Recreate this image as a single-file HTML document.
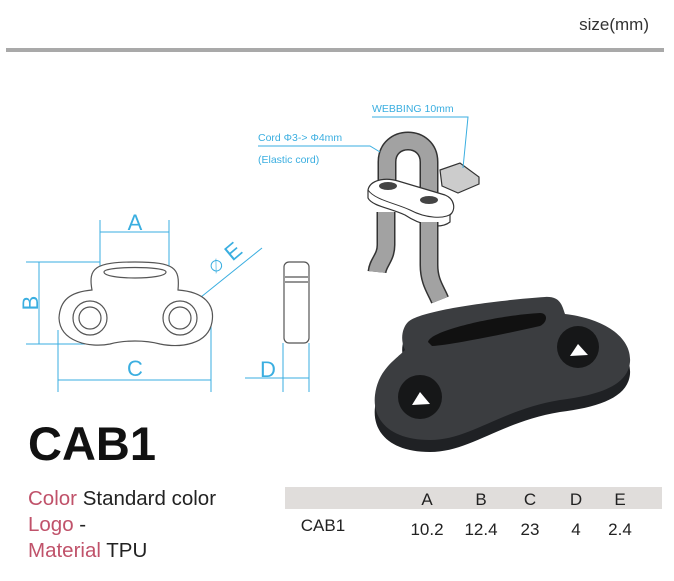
<!DOCTYPE html>
<html><head><meta charset="utf-8"><style>
html,body{margin:0;padding:0;background:#fff;}
svg{display:block;}
text{font-family:"Liberation Sans",sans-serif;}
</style></head><body>
<svg width="674" height="581" viewBox="0 0 674 581" xmlns="http://www.w3.org/2000/svg">
<rect width="674" height="581" fill="#fff"/>
<text x="649" y="30" font-size="17" fill="#333" text-anchor="end">size(mm)</text>
<rect x="6" y="48" width="658" height="4" fill="#a9a9a9"/>

<!-- line drawing front -->
<g stroke="#3aaee0" stroke-width="1" fill="none">
<line x1="100" y1="220" x2="100" y2="290"/><line x1="169" y1="220" x2="169" y2="290"/>
<line x1="100" y1="232" x2="169" y2="232"/>
<line x1="26" y1="262" x2="100" y2="262"/><line x1="26" y1="344" x2="85" y2="344"/>
<line x1="39" y1="262" x2="39" y2="344"/>
<line x1="58" y1="330" x2="58" y2="392"/><line x1="211" y1="320" x2="211" y2="392"/>
<line x1="58" y1="380" x2="211" y2="380"/>
<line x1="150" y1="338" x2="262" y2="248"/>
<line x1="283" y1="343" x2="283" y2="392"/><line x1="309" y1="343" x2="309" y2="392"/>
<line x1="245" y1="378" x2="309" y2="378"/>
</g>
<g fill="#3aaee0" font-size="22">
<text x="135" y="230" text-anchor="middle">A</text>
<text x="135" y="376" text-anchor="middle">C</text>
<text x="268" y="377" text-anchor="middle">D</text>
<text transform="translate(38,303) rotate(-90)" text-anchor="middle">B</text>
<text transform="translate(238,257) rotate(-40)" text-anchor="middle">E</text>
<text transform="translate(220,270) rotate(-40)" text-anchor="middle" font-size="16">∅</text>
</g>
<g stroke="#555" stroke-width="1.2" fill="#fff">
<path d="M92,290 C88,268 95,262 135,262 C175,262 180,268 178,290 C205,292 215,305 212,322 C208,345 180,348 160,344 C145,340 125,340 110,344 C90,348 60,342 59,318 C60,300 70,292 92,290 Z"/>
<path d="M104,272 C104,266 166,266 166,272 C166,280 104,280 104,272 Z"/>
<circle cx="90" cy="318" r="17"/><circle cx="90" cy="318" r="11"/>
<circle cx="180" cy="318" r="17"/><circle cx="180" cy="318" r="11"/>
<rect x="284" y="262" width="25" height="81" rx="5"/>
<line x1="285" y1="277" x2="308" y2="277"/><line x1="285" y1="282" x2="308" y2="282"/>
</g>

<!-- 3D cord drawing -->
<!-- webbing -->
<path d="M440,170 L460,163 L479,177 L479,184 L458,193 L442,186 Z" fill="#ccc" stroke="#333" stroke-width="1.2"/>
<!-- upper arc of cord -->
<path d="M387,190 L387,162 C387,134 429,134 429,162 L429,205" fill="none" stroke="#333" stroke-width="19"/>
<path d="M387,190 L387,162 C387,134 429,134 429,162 L429,205" fill="none" stroke="#a2a2a2" stroke-width="16"/>
<!-- buckle -->
<path d="M368,190 C370,180 385,177 398,181 L445,195 C455,199 456,210 450,215 L450,222 C440,230 420,225 405,215 C390,208 372,206 368,198 Z" fill="#fff" stroke="#333" stroke-width="1.2"/>
<path d="M368,190 C375,200 395,203 410,210 C425,218 445,220 452,213" fill="none" stroke="#333" stroke-width="1"/>
<ellipse cx="388" cy="186" rx="9" ry="4" fill="#444"/><ellipse cx="429" cy="200" rx="9" ry="4" fill="#444"/>
<!-- lower legs -->
<path d="M386,212 L386,245 C386,258 378,262 377,272" fill="none" stroke="#333" stroke-width="19"/>
<path d="M386,212 L386,245 C386,258 378,262 377,272" fill="none" stroke="#a2a2a2" stroke-width="16"/>
<path d="M429,222 L429,265 C429,282 436,290 440,300" fill="none" stroke="#333" stroke-width="19"/>
<path d="M429,222 L429,265 C429,282 436,290 440,300" fill="none" stroke="#a2a2a2" stroke-width="16"/>
<g stroke="#3aaee0" stroke-width="1" fill="none">
<polyline points="372,117 468,117 463,168"/>
<polyline points="258,146 370,146 380,152"/>
</g>
<g fill="#3aaee0" font-family="Liberation Mono,monospace" font-size="10.5">
<text x="372" y="112">WEBBING 10mm</text>
<text x="258" y="141">Cord Φ3-&gt; Φ4mm</text>
<text x="258" y="163">(Elastic cord)</text>
</g>

<!-- black product -->
<g transform="translate(0,12)">
<path d="M408,322 C420,310 500,300 545,297 C560,296 562,305 565,314 C600,318 632,335 630,362 C628,385 600,395 560,400 C500,410 470,440 430,440 C390,440 372,420 375,395 C378,370 395,360 405,350 C400,340 402,328 408,322 Z" fill="#1f2124"/>
</g>
<path d="M408,322 C420,310 500,300 545,297 C560,296 562,305 565,314 C600,318 632,335 630,362 C628,385 600,395 560,400 C500,410 470,440 430,440 C390,440 372,420 375,395 C378,370 395,360 405,350 C400,340 402,328 408,322 Z" fill="#3b3d40"/>
<path d="M428,342 C430,330 500,315 540,313 C548,313 548,322 540,326 C500,335 450,345 432,346 Z" fill="#111"/>
<circle cx="420" cy="397" r="22" fill="#161718"/>
<path d="M412,405 L420,392 L430,404 Z" fill="#fff"/>
<circle cx="578" cy="347" r="21" fill="#161718"/>
<path d="M570,356 L578,344 L588,355 Z" fill="#fff"/>

<text x="28" y="460" font-size="47" font-weight="bold" fill="#111">CAB1</text>
<g font-size="20.5">
<text x="28" y="505"><tspan fill="#c0526a">Color</tspan><tspan fill="#222"> Standard color</tspan></text>
<text x="28" y="531"><tspan fill="#c0526a">Logo</tspan><tspan fill="#222"> -</tspan></text>
<text x="28" y="557"><tspan fill="#c0526a">Material</tspan><tspan fill="#222"> TPU</tspan></text>
</g>
<rect x="285" y="487" width="377" height="22" fill="#e0dddb"/>
<g font-size="17" fill="#222" text-anchor="middle">
<text x="427" y="505">A</text><text x="481" y="505">B</text><text x="530" y="505">C</text><text x="576" y="505">D</text><text x="620" y="505">E</text>
<text x="323" y="531">CAB1</text>
<text x="427" y="535">10.2</text><text x="481" y="535">12.4</text><text x="530" y="535">23</text><text x="576" y="535">4</text><text x="620" y="535">2.4</text>
</g>
</svg>
</body></html>
